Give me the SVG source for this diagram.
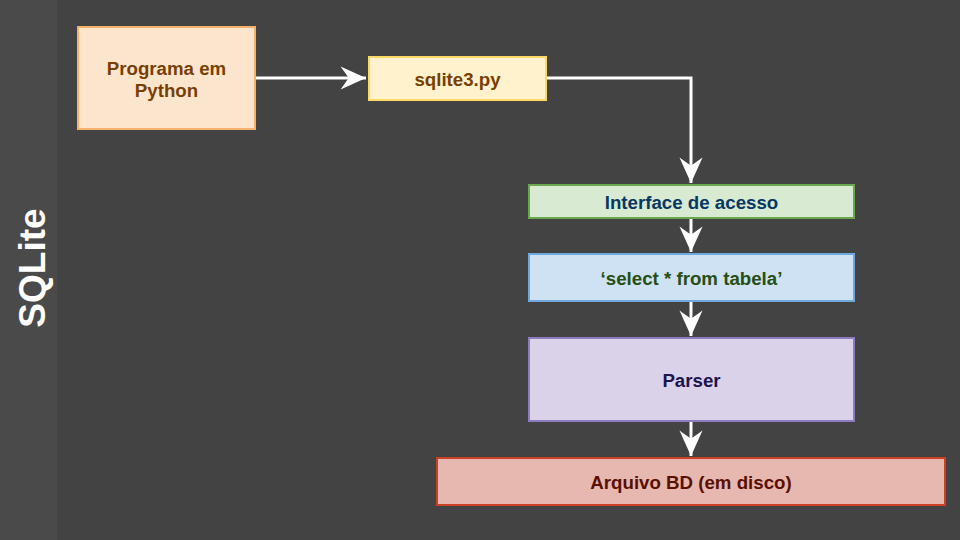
<svg xmlns="http://www.w3.org/2000/svg" width="960" height="540" viewBox="0 0 960 540">
<defs>
<style>
.lbl{font-family:"Liberation Sans",Arial,sans-serif;font-weight:bold;font-size:18.7px;text-anchor:middle;dominant-baseline:central}
.con{fill:none;stroke:#ffffff;stroke-width:3}
</style>
<marker id="ah" markerUnits="userSpaceOnUse" markerWidth="30" markerHeight="30" viewBox="-24 -12 26 24" refX="0" refY="0" orient="auto">
<path d="M0,0 L-22,-10 L-15,0 L-22,10 Z" fill="#ffffff"/>
</marker>
</defs>
<rect width="960" height="540" fill="#434343"/>
<rect width="57" height="540" fill="#4a4a4a"/>
<text transform="translate(45,268) rotate(-90)" font-family="Liberation Sans,Arial,sans-serif" font-weight="bold" font-size="37" fill="#ffffff" text-anchor="middle">SQLite</text>
<g id="connectors">
<path class="con" d="M255,78 L366,78" marker-end="url(#ah)"/>
<path class="con" d="M546,78 L691,78 L691,183" marker-end="url(#ah)"/>
<path class="con" d="M691,218 L691,252" marker-end="url(#ah)"/>
<path class="con" d="M691,301 L691,336" marker-end="url(#ah)"/>
<path class="con" d="M691,421 L691,456" marker-end="url(#ah)"/>
</g>
<g id="programa">
<rect x="78" y="27" width="177" height="102" fill="#fce5cd" stroke="#f6b26b" stroke-width="2"/>
<text class="lbl" fill="#783f04"><tspan x="166.5" y="68">Programa em</tspan><tspan x="166.5" y="90">Python</tspan></text>
</g>
<g id="sqlite3">
<rect x="369" y="57" width="177" height="43" fill="#fff2cc" stroke="#ffd966" stroke-width="2"/>
<text class="lbl" x="457.5" y="79" fill="#783f04">sqlite3.py</text>
</g>
<g id="interface">
<rect x="529" y="185" width="325" height="33" fill="#d9ead3" stroke="#6aa84f" stroke-width="2"/>
<text class="lbl" x="691.5" y="202" fill="#073763">Interface de acesso</text>
</g>
<g id="select">
<rect x="529" y="254" width="325" height="47" fill="#cfe2f3" stroke="#6fa8dc" stroke-width="2"/>
<text class="lbl" x="691.5" y="278" fill="#274e13">‘select * from tabela’</text>
</g>
<g id="parser">
<rect x="529" y="338" width="325" height="83" fill="#d9d2e9" stroke="#8e7cc3" stroke-width="2"/>
<text class="lbl" x="691.5" y="380" fill="#20124d">Parser</text>
</g>
<g id="arquivo">
<rect x="437" y="458" width="508" height="47" fill="#e6b8af" stroke="#cc4125" stroke-width="2"/>
<text class="lbl" x="691" y="482" fill="#5b0f00">Arquivo BD (em disco)</text>
</g>
</svg>
